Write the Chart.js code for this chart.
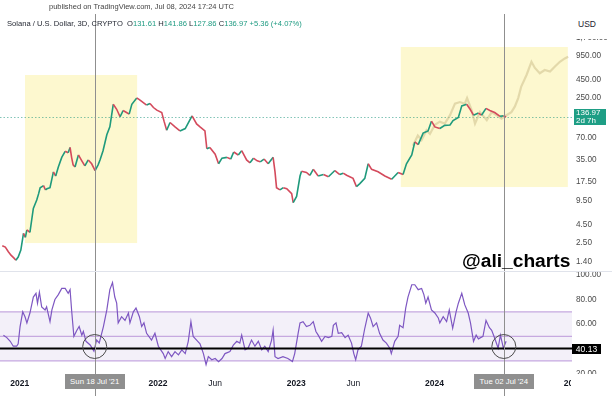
<!DOCTYPE html>
<html><head><meta charset="utf-8">
<script src="https://cdn.jsdelivr.net/npm/chart.js@4.4.1/dist/chart.umd.min.js"></script>
<style>
html,body{margin:0;padding:0;background:#fff}
body{width:612px;height:396px;overflow:hidden;position:relative;font-family:"Liberation Sans",Arial,Helvetica,sans-serif}
canvas{position:absolute;left:0}
#main{top:0}
#rsi{top:272px}
.t{position:absolute;white-space:nowrap}
</style></head>
<body>
<canvas id="main" width="612" height="272"></canvas>
<canvas id="rsi" width="612" height="124"></canvas>
<script>
// ---------- DATA ----------
const priceDates = ['2020-11-16','2020-11-24','2020-12-02','2020-12-09','2020-12-17','2020-12-22','2020-12-28','2021-01-04','2021-01-11','2021-01-16','2021-01-20','2021-01-28','2021-02-06','2021-02-15','2021-02-20','2021-02-24','2021-03-05','2021-03-10','2021-03-14','2021-03-22','2021-03-31','2021-04-06','2021-04-13','2021-04-22','2021-05-01','2021-05-09','2021-05-14','2021-05-18','2021-05-22','2021-05-27','2021-06-05','2021-06-14','2021-06-22','2021-07-01','2021-07-10','2021-07-19','2021-07-27','2021-08-01','2021-08-09','2021-08-19','2021-08-27','2021-09-05','2021-09-14','2021-09-23','2021-10-01','2021-10-10','2021-10-17','2021-10-24','2021-11-06','2021-11-12','2021-11-19','2021-12-02','2021-12-11','2021-12-20','2021-12-29','2022-01-11','2022-01-17','2022-01-24','2022-02-02','2022-02-15','2022-02-28','2022-03-14','2022-04-01','2022-04-13','2022-04-22','2022-05-05','2022-05-10','2022-05-18','2022-06-01','2022-06-10','2022-06-19','2022-07-02','2022-07-12','2022-07-20','2022-08-01','2022-08-10','2022-08-23','2022-09-01','2022-09-10','2022-09-20','2022-09-28','2022-10-08','2022-10-19','2022-11-01','2022-11-06','2022-11-10','2022-11-19','2022-11-28','2022-12-07','2022-12-20','2022-12-24','2023-01-02','2023-01-11','2023-01-15','2023-01-28','2023-02-06','2023-02-15','2023-02-28','2023-03-14','2023-03-27','2023-04-13','2023-04-26','2023-05-05','2023-05-14','2023-05-31','2023-06-09','2023-06-18','2023-07-01','2023-07-10','2023-07-19','2023-08-05','2023-08-23','2023-09-10','2023-09-27','2023-10-10','2023-10-19','2023-11-02','2023-11-10','2023-11-19','2023-12-02','2023-12-15','2023-12-24','2024-01-02','2024-01-15','2024-01-28','2024-02-11','2024-02-19','2024-03-04','2024-03-13','2024-03-26','2024-04-04','2024-04-13','2024-04-26','2024-05-04','2024-05-16','2024-05-26','2024-06-08','2024-06-22','2024-07-01','2024-07-08'];
const priceClose = [2.3,2.2,1.9,1.7,1.55,1.45,1.6,2.0,3.4,3.0,3.8,3.5,7.5,9.8,12,14.5,15.5,13.5,14,14.5,24,21,28,38,46,44,52,38,30,28,41,34,29,35,31,25,30,35,47,78,100,205,175,138,168,158,150,205,250,240,225,200,210,185,170,158,120,90,115,100,88,95,142,110,100,88,50,52,42,31,37,38,36,45,41,47,35,32,37,34,33,36,31,38,24,14.5,13.5,14.5,14,12,9,11,21,24.5,23.5,21.5,26,21,22,20.5,25,22,23,21.5,19.5,15,16.5,19.5,31,26,24,21,19,23.5,22,31,41,62,57,82,88,120,100,95,105,106,122,135,195,205,175,145,155,145,180,168,158,140,142,137];

const ghostDates = ['2023-11-05','2023-11-18','2023-11-28','2023-12-11','2023-12-20','2024-01-02','2024-01-15','2024-01-28','2024-02-11','2024-02-24','2024-03-08','2024-03-21','2024-03-27','2024-04-08','2024-04-17','2024-04-30','2024-05-18','2024-05-31','2024-06-13','2024-06-26','2024-07-09','2024-07-22','2024-07-31','2024-08-09','2024-08-17','2024-08-31','2024-09-13','2024-09-22','2024-10-05','2024-10-18','2024-11-01','2024-11-14','2024-11-27','2024-12-10','2024-12-19'];
const ghostClose = [55,76,66,90,80,107,118,111,145,209,220,209,250,171,111,160,124,160,145,130,145,160,190,250,360,520,790,650,550,609,580,680,790,880,930];

const rsiDates = ['2020-11-19','2020-11-28','2020-12-07','2020-12-15','2020-12-24','2020-12-28','2021-01-02','2021-01-09','2021-01-15','2021-01-20','2021-01-28','2021-02-06','2021-02-13','2021-02-17','2021-02-22','2021-02-28','2021-03-09','2021-03-13','2021-03-22','2021-03-27','2021-04-04','2021-04-13','2021-04-22','2021-05-01','2021-05-09','2021-05-14','2021-05-18','2021-05-24','2021-06-01','2021-06-07','2021-06-14','2021-06-18','2021-06-25','2021-07-06','2021-07-16','2021-07-23','2021-07-30','2021-08-10','2021-08-19','2021-08-27','2021-09-03','2021-09-09','2021-09-14','2021-09-18','2021-09-27','2021-10-06','2021-10-15','2021-10-19','2021-10-28','2021-11-04','2021-11-13','2021-11-19','2021-11-25','2021-12-02','2021-12-15','2021-12-24','2022-01-02','2022-01-15','2022-01-20','2022-01-28','2022-02-06','2022-02-15','2022-02-24','2022-03-05','2022-03-14','2022-03-22','2022-03-29','2022-04-04','2022-04-13','2022-04-22','2022-05-01','2022-05-08','2022-05-14','2022-05-23','2022-06-01','2022-06-10','2022-06-19','2022-06-27','2022-07-10','2022-07-19','2022-07-28','2022-08-05','2022-08-10','2022-08-19','2022-08-27','2022-09-05','2022-09-14','2022-09-23','2022-10-02','2022-10-10','2022-10-19','2022-10-28','2022-11-01','2022-11-06','2022-11-14','2022-11-27','2022-12-10','2022-12-22','2022-12-28','2023-01-06','2023-01-11','2023-01-19','2023-01-28','2023-02-06','2023-02-15','2023-02-22','2023-02-28','2023-03-09','2023-03-18','2023-03-27','2023-04-05','2023-04-09','2023-04-16','2023-04-22','2023-05-01','2023-05-10','2023-05-18','2023-05-27','2023-06-02','2023-06-07','2023-06-13','2023-06-22','2023-07-01','2023-07-10','2023-07-16','2023-07-23','2023-08-01','2023-08-09','2023-08-18','2023-08-27','2023-09-05','2023-09-09','2023-09-18','2023-09-27','2023-10-01','2023-10-10','2023-10-17','2023-10-23','2023-11-02','2023-11-10','2023-11-19','2023-11-28','2023-12-04','2023-12-09','2023-12-15','2023-12-24','2024-01-02','2024-01-11','2024-01-15','2024-01-24','2024-02-02','2024-02-09','2024-02-18','2024-02-27','2024-03-04','2024-03-13','2024-03-21','2024-03-30','2024-04-05','2024-04-13','2024-04-20','2024-04-26','2024-05-08','2024-05-16','2024-05-25','2024-05-31','2024-06-08','2024-06-17','2024-06-23','2024-07-01','2024-07-08'];
const rsiValues = [51,49,46,42,42,44,58,70,66,61,69,82,85,77,86,74,71.5,74,62,71.5,80,84,89,89,85,88,71.5,50,55,58,51,54,46,43,38,47,44.6,58,71.5,88,93.7,82,77,61,66,63,69,61,70,73,66,58,61,52.5,47,52.5,42,36,32,37.6,33.5,37.6,35,39,36,46,62,50,47,44,36,27,33.5,31,32,29.5,32,36,37.6,43,46,44.6,51,39,40.5,47,42,46,39,42,37.6,47,55,33.5,32,33.5,32,29.5,36,52.5,61,62,58,59,62,54,51,46,50,49,50,59,61,52.5,53,49,51,44.5,36,31,39,42,56.6,69,65,58,61,52.5,47,44.5,40.4,36,46,50,59,57,73,82,92,92,88,89,84,77,82,71.5,69,65,61,66,62,71.5,56.6,70,77,85,75.6,69,61,46,51,48,50,63,57,55,48.5,40.4,51,40.4,46];

const priceTicks = [1.4,2.5,4.5,9.5,17.5,35,70,250,450,950,1700];
const rsiTicks = [20,40,60,80,100];
const rsiBand = [30,50,70];
const rsiLevel = 40.13;
const tickDates = ['2021-01-01','2021-06-01','2022-01-01','2022-06-01','2023-01-01','2023-06-01','2024-01-01','2024-06-01','2025-01-01'];
const tickLabels = ['2021','Jun','2022','Jun','2023','Jun','2024','Jun','2025'];
const tickBold = [true,false,true,false,true,false,true,false,true];
const cursorDates = ['2021-07-18','2024-07-02'];
const cursorLabels = ["Sun 18 Jul '21","Tue 02 Jul '24"];
const boxFrom = ['2021-01-15','2023-10-04'];
const boxTo = ['2021-11-07','2024-12-18'];
const boxLow = [2.5,14.8];
const boxHigh = [520,1265];
const lastPrice = 136.97;

// ---------- HELPERS ----------
const FONT = '"Liberation Sans", Arial, Helvetica, sans-serif';
Chart.defaults.font.family = FONT;
const EPOCH = Date.UTC(2021,0,1);
const toDay = s => (Date.parse(s+'T00:00:00Z') - EPOCH) / 86400000;
const X_MIN = toDay('2020-11-10');
const X_MAX = toDay('2024-12-29');
const UP = '#1f9a7c', DOWN = '#d44a5c';
const fmt = v => v.toLocaleString('en-US',{minimumFractionDigits:2,maximumFractionDigits:2});
const pts = (d,v) => d.map((s,i)=>({x:toDay(s), y:v[i]}));

const mainDeco = {
  id:'mainDeco',
  beforeDatasetsDraw(c){
    const {ctx, chartArea:a, scales:{x,y}} = c;
    ctx.save();
    ctx.fillStyle = '#fdf8cf';
    for (let i=0;i<boxFrom.length;i++){
      const x0=x.getPixelForValue(toDay(boxFrom[i])), x1=x.getPixelForValue(toDay(boxTo[i]));
      const y0=y.getPixelForValue(boxHigh[i]), y1=y.getPixelForValue(boxLow[i]);
      ctx.fillRect(x0,y0,x1-x0,y1-y0);
    }
    const yp = Math.round(y.getPixelForValue(lastPrice))+0.5;
    ctx.strokeStyle = 'rgba(30,150,125,0.55)'; ctx.lineWidth = 1; ctx.setLineDash([1.5,2]);
    ctx.beginPath(); ctx.moveTo(a.left,yp); ctx.lineTo(a.right,yp); ctx.stroke();
    ctx.restore();
  },
  afterDatasetsDraw(c){
    const {ctx, scales:{x}} = c;
    ctx.save();
    ctx.strokeStyle = '#8f8f8f'; ctx.lineWidth = 1;
    cursorDates.forEach(d=>{
      const px = Math.round(x.getPixelForValue(toDay(d)))+0.5;
      ctx.beginPath(); ctx.moveTo(px,14); ctx.lineTo(px,c.height); ctx.stroke();
    });
    ctx.strokeStyle = '#e0e3eb';
    ctx.beginPath(); ctx.moveTo(0,271.5); ctx.lineTo(c.width,271.5); ctx.stroke();
    ctx.restore();
  }
};

const rsiDeco = {
  id:'rsiDeco',
  beforeDatasetsDraw(c){
    const {ctx, chartArea:a, scales:{y}} = c;
    ctx.save();
    const yTop = y.getPixelForValue(rsiBand[2]), yBot = y.getPixelForValue(rsiBand[0]);
    ctx.fillStyle = 'rgba(126,87,194,0.09)';
    ctx.fillRect(a.left,yTop,a.right-a.left,yBot-yTop);
    ctx.strokeStyle = '#c6a9e0'; ctx.lineWidth = 1.3;
    rsiBand.forEach(v=>{
      const yy = y.getPixelForValue(v);
      ctx.beginPath(); ctx.moveTo(a.left,yy); ctx.lineTo(a.right,yy); ctx.stroke();
    });
    ctx.restore();
  },
  afterDatasetsDraw(c){
    const {ctx, chartArea:a, scales:{x,y}} = c;
    ctx.save();
    const yl = y.getPixelForValue(rsiLevel);
    ctx.strokeStyle = '#000'; ctx.lineWidth = 2;
    ctx.beginPath(); ctx.moveTo(a.left,yl); ctx.lineTo(a.right,yl); ctx.stroke();
    ctx.strokeStyle = '#8f8f8f'; ctx.lineWidth = 1;
    cursorDates.forEach(d=>{
      const px = Math.round(x.getPixelForValue(toDay(d)))+0.5;
      ctx.beginPath(); ctx.moveTo(px,0); ctx.lineTo(px,c.height); ctx.stroke();
    });
    ctx.strokeStyle = '#4a4a4a'; ctx.lineWidth = 1;
    cursorDates.forEach(d=>{
      const px = x.getPixelForValue(toDay(d));
      ctx.beginPath(); ctx.arc(px, yl-2, 12, 0, Math.PI*2); ctx.stroke();
    });
    ctx.restore();
  },
  afterDraw(c){
    const {ctx, chartArea:a} = c;
    ctx.save(); ctx.fillStyle = '#fff';
    ctx.fillRect(a.right-1, a.bottom, c.width-a.right+1, c.height-a.bottom);
    ctx.restore();
  }
};

const mainChart = new Chart(document.getElementById('main'), {
  type:'line',
  data:{datasets:[
    {data:pts(priceDates,priceClose), borderColor:UP, borderWidth:1.6, pointRadius:0, tension:0, order:0,
     segment:{borderColor: s => s.p1.parsed.y >= s.p0.parsed.y ? UP : DOWN}},
    {data:pts(ghostDates,ghostClose), borderColor:'rgba(206,192,140,0.55)', borderWidth:2.2, pointRadius:0, tension:0, order:1}
  ]},
  options:{
    responsive:false, animation:false, events:[],
    layout:{padding:{top:16,bottom:2,left:0,right:0}},
    plugins:{legend:{display:false}, tooltip:{enabled:false}},
    scales:{
      x:{type:'linear', min:X_MIN, max:X_MAX, display:false},
      y:{type:'logarithmic', position:'right', min:1.062, max:3385,
         afterBuildTicks: s => { s.ticks = priceTicks.map(v=>({value:v})); },
         afterFit: s => { s.width = 40; s.paddingTop = 0; s.paddingBottom = 0; },
         grid:{display:false, drawTicks:false}, border:{display:false},
         ticks:{padding:4, color:'#4a4a4a', font:{size:8.2}, callback: v => fmt(v)}}
    }
  },
  plugins:[mainDeco]
});

const rsiChart = new Chart(document.getElementById('rsi'), {
  type:'line',
  data:{datasets:[
    {data:pts(rsiDates,rsiValues), borderColor:'#7e57c2', borderWidth:1.2, pointRadius:0, tension:0}
  ]},
  options:{
    responsive:false, animation:false, events:[],
    layout:{padding:0},
    plugins:{legend:{display:false}, tooltip:{enabled:false}},
    scales:{
      x:{type:'linear', position:'bottom', min:X_MIN, max:X_MAX,
         afterBuildTicks: s => { s.ticks = tickDates.map(d=>({value:toDay(d)})); },
         afterFit: s => { s.height = 22; s.paddingLeft = 0; s.paddingRight = 0; },
         grid:{display:false, drawTicks:false}, border:{display:false},
         ticks:{autoSkip:false, maxRotation:0, minRotation:0, padding:5, color:'#131722',
                font: ctx => ({size:8.5, weight: tickBold[ctx.index] ? 'bold' : 'normal'}),
                callback: (v,i) => tickLabels[i]}},
      y:{type:'linear', position:'right', min:19.4, max:102.36,
         afterBuildTicks: s => { s.ticks = rsiTicks.map(v=>({value:v})); },
         afterFit: s => { s.width = 40; s.paddingTop = 0; s.paddingBottom = 0; },
         grid:{display:false, drawTicks:false}, border:{display:false},
         ticks:{padding:4, color:'#4a4a4a', font:{size:8.2}, callback: v => v.toFixed(2)}}
    }
  },
  plugins:[rsiDeco]
});

// ---------- OVERLAY TEXT ----------
function addDiv(html, css){
  const d = document.createElement('div'); d.className = 't'; d.innerHTML = html;
  Object.assign(d.style, css); document.body.appendChild(d); return d;
}
const G = '#1f9b82';
addDiv('published on TradingView.com, Jul 08, 2024 17:24 UTC',
  {left:'49px', top:'2px', fontSize:'7.5px', color:'#444', lineHeight:'10px'});
addDiv('Solana / U.S. Dollar, 3D, CRYPTO&nbsp; O<span style="color:'+G+'">131.61</span> H<span style="color:'+G+'">141.86</span> L<span style="color:'+G+'">127.86</span> C<span style="color:'+G+'">136.97</span> <span style="color:'+G+'">+5.36 (+4.07%)</span>',
  {left:'7px', top:'19px', fontSize:'7.6px', color:'#1e222d', lineHeight:'10px'});
addDiv('USD', {left:'572px', top:'14px', width:'40px', height:'25px', background:'#fff', fontSize:'8.5px', color:'#1e222d', lineHeight:'20px', paddingLeft:'6px', boxSizing:'border-box'});

const ys = mainChart.scales.y, xs = mainChart.scales.x;
const yp = ys.getPixelForValue(lastPrice);
addDiv('136.97<br>2d 7h', {left:'574px', top:(yp-8)+'px', width:'32px', height:'16px', background:'#1e9e85', color:'#fff', fontSize:'8px', lineHeight:'8px', paddingLeft:'2px', boxSizing:'border-box'});

const yr = rsiChart.scales.y;
const yl = 272 + yr.getPixelForValue(rsiLevel);
addDiv('40.13', {left:'572px', top:(yl-5)+'px', width:'29px', height:'10px', background:'#000', color:'#fff', fontSize:'8.5px', lineHeight:'10px', textAlign:'center'});

cursorDates.forEach((d,i)=>{
  const px = xs.getPixelForValue(toDay(d));
  addDiv(cursorLabels[i], {left:(px-30)+'px', top:'374px', width:'60px', height:'15px', background:'#8f8f8f', color:'#fff', fontSize:'7.8px', lineHeight:'15px', textAlign:'center'});
});

addDiv('@ali_charts', {left:'462px', top:'249px', fontSize:'19.2px', fontWeight:'bold', color:'#000', lineHeight:'24px'});
</script>
</body></html>
